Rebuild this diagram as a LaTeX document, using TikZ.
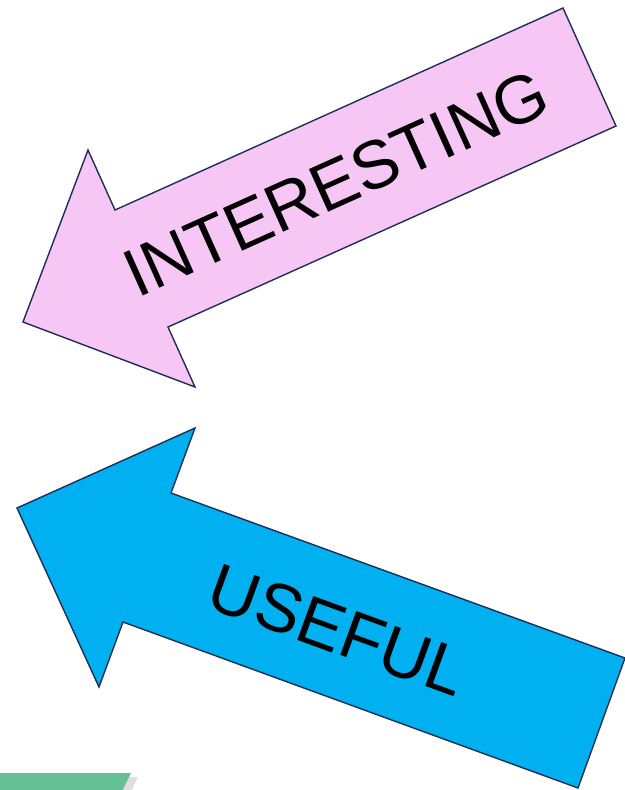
\documentclass[tikz,border=0pt]{standalone}
\usepackage{fontspec}
\setmainfont{Liberation Sans}
\usepackage{xcolor}
\usepackage{tikz}
\usetikzlibrary{calc}

\definecolor{pinkfill}{RGB}{246,198,245}
\definecolor{bluefill}{RGB}{0,176,240}
\definecolor{edgenavy}{RGB}{31,46,84}
\definecolor{greenfill}{RGB}{102,192,149}

\begin{document}
\begin{tikzpicture}[
  x=1pt, y=-1pt,
  bigarrow/.style={draw=edgenavy, line width=1.4pt, line join=miter},
  word/.style={font=\fontsize{68}{68}\selectfont, inner sep=0pt, anchor=center},
]
\useasboundingbox (0,0) rectangle (624,790);

% pink arrow, pointing down-left
\draw[bigarrow, fill=pinkfill]
  (563,8) -- (616,126) -- (168,327) -- (195,387) -- (23,322)
  -- (88,150) -- (115,210) -- cycle;
\node[word, rotate=24.2] (interesting) at (336,183) {INTERESTING};

% blue arrow, pointing up-left
\draw[bigarrow, fill=bluefill]
  (195,428) -- (171,493) -- (625,658) -- (578,788) -- (123,622)
  -- (99,687) -- (17,508) -- cycle;
\node[word, rotate=-20] (useful) at (338,630) {USEFUL};

% green strip cut off at the bottom edge
\fill[black!25, opacity=0.5] (0,777) -- (138,777) -- (130,794) -- (0,794) -- cycle;
\fill[greenfill] (0,773) -- (131,773) -- (122,791) -- (0,791) -- cycle;
\end{tikzpicture}
\end{document}
